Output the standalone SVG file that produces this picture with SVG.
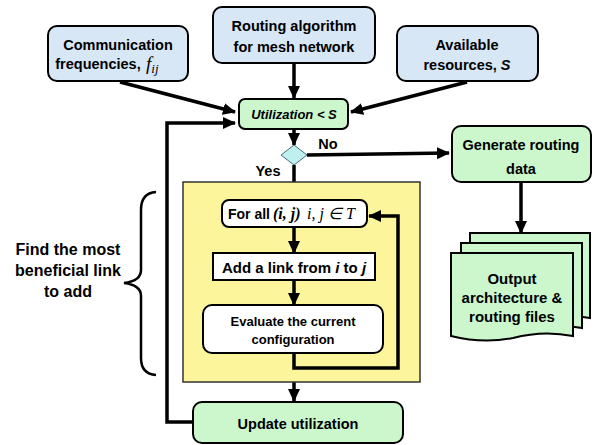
<svg xmlns="http://www.w3.org/2000/svg" width="597" height="445" viewBox="0 0 597 445">
<style>
.t{font-family:"Liberation Sans",Arial,sans-serif;font-weight:bold;fill:#000;text-anchor:middle}
.m{font-family:"Liberation Serif","Times New Roman",serif;font-style:italic}
.blue{fill:#d8e7f5;stroke:#000;stroke-width:2}
.green{fill:#ccf7cc;stroke:#000;stroke-width:2}
.white{fill:#fff;stroke:#000;stroke-width:2}
.c{fill:none;stroke:#000;stroke-width:3.5}
</style>
<defs>
<marker id="ah" markerUnits="userSpaceOnUse" markerWidth="14" markerHeight="14" viewBox="0 0 14 14" refX="12" refY="7" orient="auto">
<path d="M0,1 L13,7 L0,13 Z" fill="#000"/>
</marker>
</defs>
<rect width="597" height="445" fill="#fff"/>

<g id="connectors">
<line class="c" x1="120" y1="82" x2="235" y2="112" marker-end="url(#ah)"/>
<line class="c" x1="294" y1="63" x2="294" y2="98" marker-end="url(#ah)"/>
<line class="c" x1="467" y1="82" x2="351" y2="112" marker-end="url(#ah)"/>
<line class="c" x1="294" y1="129" x2="294" y2="145" marker-end="url(#ah)"/>
<line class="c" x1="307" y1="155" x2="449" y2="153" marker-end="url(#ah)"/>
<line class="c" x1="294" y1="165" x2="294" y2="200" marker-end="url(#ah)"/>
<line class="c" x1="521" y1="182" x2="521" y2="233" marker-end="url(#ah)"/>
<line class="c" x1="294" y1="382" x2="294" y2="401" marker-end="url(#ah)"/>
<polyline class="c" points="193,422 167,422 167,123 235,123" marker-end="url(#ah)"/>
</g>

<g id="yellow-box">
<rect x="183" y="182" width="237" height="200" fill="#fdf59b" stroke="#333" stroke-width="1.5"/>
</g>

<g id="inner-connectors">
<line class="c" x1="294" y1="227" x2="294" y2="253" marker-end="url(#ah)"/>
<line class="c" x1="294" y1="280" x2="294" y2="305" marker-end="url(#ah)"/>
<polyline class="c" points="294,353 294,368 398,368 398,216 369,216" marker-end="url(#ah)"/>
</g>

<g id="comm">
<rect class="blue" x="48" y="26" width="140" height="55" rx="9"/>
<text class="t" x="118" y="50" font-size="14.5">Communication</text>
<text class="t" x="98" y="69" font-size="14.5">frequencies,</text>
<text class="m" x="146" y="70" font-size="19">f<tspan font-size="13" dy="3">ij</tspan></text>
</g>

<g id="routing">
<rect class="blue" x="213" y="7" width="162" height="56" rx="9"/>
<text class="t" x="294" y="31" font-size="14.5">Routing algorithm</text>
<text class="t" x="294" y="52" font-size="14.5">for mesh network</text>
</g>

<g id="avail">
<rect class="blue" x="397" y="26" width="141" height="55" rx="9"/>
<text class="t" x="467" y="50" font-size="14.5">Available</text>
<text class="t" x="467" y="70" font-size="14.5">resources, <tspan font-style="italic">S</tspan></text>
</g>

<g id="util">
<rect class="green" x="239" y="99" width="109" height="30" rx="6"/>
<text class="t" x="294" y="119" font-size="13" font-style="italic">Utilization &lt; S</text>
</g>

<g id="decision">
<polygon points="294,145 307,155 294,165 281,155" fill="#bff0f0" stroke="#4a6a7a" stroke-width="1"/>
<text class="t" x="328" y="149" font-size="14.5">No</text>
<text class="t" x="268" y="176" font-size="14.5">Yes</text>
</g>

<g id="generate">
<rect class="green" x="452" y="126" width="139" height="56" rx="9"/>
<text class="t" x="521" y="150" font-size="14.5">Generate routing</text>
<text class="t" x="521" y="174" font-size="14.5">data</text>
</g>

<g id="output">
<path class="green" d="M470,233 L590,233 L590,318 Q560,312 530,320 Q500,326 470,318 Z"/>
<path class="green" d="M461,243 L582,243 L582,328 Q552,322 522,330 Q492,336 461,328 Z"/>
<path class="green" d="M451,253 L573,253 L573,336 Q543,330 513,338 Q483,344 451,336 Z"/>
<text class="t" x="512" y="284" font-size="15">Output</text>
<text class="t" x="512" y="303" font-size="15">architecture &amp;</text>
<text class="t" x="512" y="322" font-size="15">routing files</text>
</g>

<g id="forall">
<rect class="white" x="222" y="200" width="145" height="27" rx="7"/>
<text class="t" x="228" y="219" font-size="14" style="text-anchor:start">For all</text>
<text x="273" y="219" font-size="16" font-family="Liberation Serif, Times New Roman, serif" font-weight="bold" font-style="italic">(i, j)</text>
<text x="307" y="219" font-size="16" font-family="Liberation Serif, Times New Roman, serif" font-style="italic">i, j ∈ T</text>
</g>

<g id="addlink">
<rect class="white" x="213" y="253" width="162" height="27"/>
<text class="t" x="294" y="273" font-size="15">Add a link from <tspan font-style="italic">i</tspan> to <tspan font-style="italic">j</tspan></text>
</g>

<g id="evaluate">
<rect class="white" x="203" y="305" width="180" height="48" rx="9"/>
<text class="t" x="293" y="326" font-size="13">Evaluate the current</text>
<text class="t" x="293" y="344" font-size="13">configuration</text>
</g>

<g id="update">
<rect class="green" x="193" y="402" width="210" height="41" rx="9"/>
<text class="t" x="298" y="429" font-size="14.5">Update utilization</text>
</g>

<g id="brace">
<path d="M156,192 Q141,193 141,210 L141,270 Q141,281 124,283 Q141,285 141,296 L141,358 Q141,374 156,375" fill="none" stroke="#000" stroke-width="2.5"/>
<text class="t" x="68" y="255" font-size="16">Find the most</text>
<text class="t" x="68" y="276" font-size="16">beneficial link</text>
<text class="t" x="68" y="297" font-size="16">to add</text>
</g>
</svg>
